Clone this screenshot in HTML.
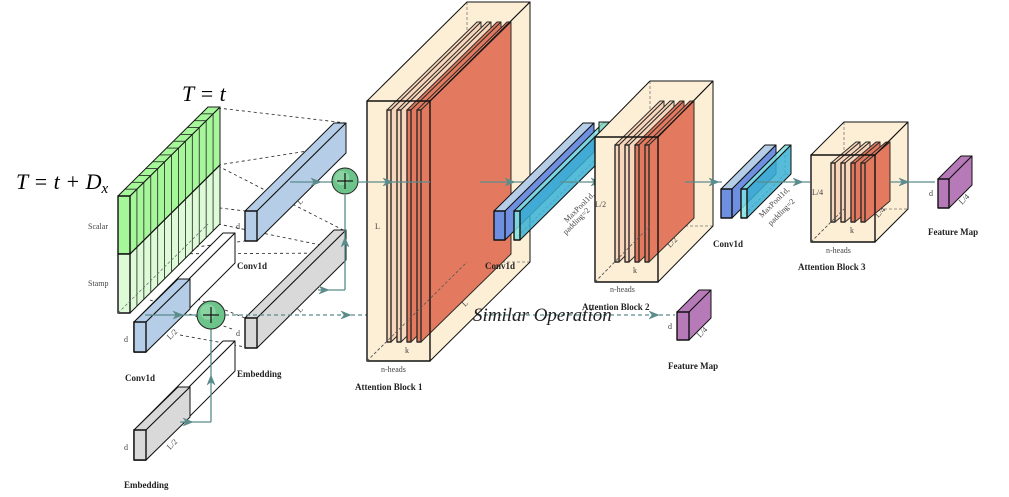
<!DOCTYPE html>
<html><head><meta charset="utf-8"><style>
html,body{margin:0;padding:0;background:#fff;}
svg{display:block;}
text{font-family:"Liberation Serif",serif;}
.b{font-weight:bold;font-size:9px;fill:#222;}
.s{font-size:8px;fill:#444;}
</style></head><body>
<svg id="svg" width="1009" height="497" viewBox="0 0 1009 497" xmlns="http://www.w3.org/2000/svg">
<g id="g"></g>
<g id="txt">
<text x="182" y="101" font-size="22" font-style="italic">T = t</text>
<text x="16" y="189" font-size="22" font-style="italic">T = t + D<tspan font-size="15" dy="4">x</tspan></text>
<text x="88" y="229" class="s">Scalar</text>
<text x="88" y="286" class="s">Stamp</text>
<text x="237" y="269" class="b">Conv1d</text>
<text x="125" y="381" class="b">Conv1d</text>
<text x="237" y="377" class="b">Embedding</text>
<text x="124" y="488" class="b">Embedding</text>
<text x="236" y="229" class="s">d</text>
<text x="236" y="336" class="s">d</text>
<text x="124" y="342" class="s">d</text>
<text x="124" y="450" class="s">d</text>
<text x="170" y="340" class="s" transform="rotate(-45 170 340)">L/2</text>
<text x="170" y="450" class="s" transform="rotate(-45 170 450)">L/2</text>
<text x="300" y="205" class="s" transform="rotate(-45 300 205)">L</text>
<text x="300" y="313" class="s" transform="rotate(-45 300 313)">L</text>
<text x="375" y="229" class="s">L</text>
<text x="405" y="353" class="s">k</text>
<text x="381" y="372" class="s">n-heads</text>
<text x="355" y="390" class="b">Attention Block 1</text>
<text x="465" y="307" class="s" transform="rotate(-45 465 307)">L</text>
<text x="485" y="269" class="b">Conv1d</text>
<text x="567" y="223" class="s" transform="rotate(-45 567 223)">MaxPool1d,</text>
<text x="566" y="235" class="s" transform="rotate(-45 566 235)">padding=2</text>
<text x="595" y="207" class="s">L/2</text>
<text x="633" y="273" class="s">k</text>
<text x="610" y="292" class="s">n-heads</text>
<text x="582" y="310" class="b">Attention Block 2</text>
<text x="670" y="248" class="s" transform="rotate(-45 670 248)">L/2</text>
<text x="473" y="321" font-size="19" font-style="italic" fill="#222">Similar Operation</text>
<text x="668" y="329" class="s">d</text>
<text x="700" y="338" class="s" transform="rotate(-45 700 338)">L/4</text>
<text x="668" y="369" class="b">Feature Map</text>
<text x="713" y="247" class="b">Conv1d</text>
<text x="762" y="218" class="s" transform="rotate(-45 762 218)">MaxPool1d,</text>
<text x="771" y="226" class="s" transform="rotate(-45 771 226)">padding=2</text>
<text x="812" y="195" class="s">L/4</text>
<text x="850" y="233" class="s">k</text>
<text x="826" y="253" class="s">n-heads</text>
<text x="798" y="270" class="b">Attention Block 3</text>
<text x="878" y="218" class="s" transform="rotate(-45 878 218)">L/4</text>
<text x="929" y="196" class="s">d</text>
<text x="962" y="205" class="s" transform="rotate(-45 962 205)">L/4</text>
<text x="928" y="235" class="b">Feature Map</text>
</g>
</svg>
<script>
var g=document.getElementById('g');var NS='http://www.w3.org/2000/svg';
function el(t,a){var e=document.createElementNS(NS,t);for(var k in a)e.setAttribute(k,a[k]);g.appendChild(e);return e;}
function P(pts){return pts.map(function(p){return p[0]+','+p[1]}).join(' ');}
function poly(pts,fill,stroke,sw,op){el('polygon',{points:P(pts),fill:fill,stroke:stroke||'#111','stroke-width':sw||1,'fill-opacity':op==null?1:op,'stroke-linejoin':'round'});}
function line(x1,y1,x2,y2,c,w,d){var a={x1:x1,y1:y1,x2:x2,y2:y2,stroke:c||'#111','stroke-width':w||1};if(d)a['stroke-dasharray']=d;el('line',a);}
function hidden(x,y,w,h,dx,dy){var hc='#666';
  line(x+dx,y-dy,x+dx,y+h-dy,hc,0.8,'3,2');line(x+dx,y+h-dy,x+w+dx,y+h-dy,hc,0.8,'3,2');line(x,y+h,x+dx,y+h-dy,hc,0.8,'3,2');}
function box(x,y,w,h,dx,dy,f,t,s,sw,op,hid){
 op=op==null?1:op;
 if(hid!==false)hidden(x,y,w,h,dx,dy);
 poly([[x,y],[x+dx,y-dy],[x+w+dx,y-dy],[x+w,y]],t,'#111',sw||1,op);
 poly([[x+w,y],[x+w+dx,y-dy],[x+w+dx,y+h-dy],[x+w,y+h]],s,'#111',sw||1,op);
 poly([[x,y],[x+w,y],[x+w,y+h],[x,y+h]],f,'#111',(sw||1)*1.4,op);
}
function block(x,y,w,h,dx,dy,plates,py,ph,pdx,pdy){
 var c='#fdefd6';
 poly([[x,y],[x+dx,y-dy],[x+w+dx,y-dy],[x+w+dx,y+h-dy],[x+w,y+h],[x,y+h]],c,'none',1,1);
 hidden(x,y,w,h,dx,dy);
 plates.forEach(function(p){box(p[0],py,4,ph,pdx,pdy,p[1],p[1],p[1],1,1,false);});
 poly([[x,y],[x+dx,y-dy],[x+w+dx,y-dy],[x+w,y]],c,'#111',1,0.12);
 poly([[x+w,y],[x+w+dx,y-dy],[x+w+dx,y+h-dy],[x+w,y+h]],c,'#111',1,0.12);
 poly([[x,y],[x+w,y],[x+w,y+h],[x,y+h]],c,'#111',1.4,0.12);
 line(x,y+h,x+dx,y+h-dy,'#555',0.8,'3,2');
}
function arrowH(x,y,c){poly([[x-7,y-4],[x+3,y],[x-7,y+4],[x-4,y]],c,c,0.5);}
function arrowV(x,y,c){poly([[x-4,y+7],[x,y-3],[x+4,y+7],[x,y+4]],c,c,0.5);}
var T='#5b8c8c';
var D='3,3';
[[218,108,346,123],[218,165,346,145],[130,197,245,211],[218,166,345,231],[130,254,345,253],[218,224,345,250],[130,255,245,241],[150,300,235,330],[175,290,245,318],[180,335,245,347]].forEach(function(l){line(l[0],l[1],l[2],l[3],'#222',0.8,D);});
(function(){var x=118,y=196,w=12,h=117,dx=90,dy=89;
 poly([[x+w,y],[x+w+dx,y-dy],[x+w+dx,y+58-dy],[x+w,y+58]],'#a6f79a','#111',1);
 poly([[x+w,y+58],[x+w+dx,y+58-dy],[x+w+dx,y+h-dy],[x+w,y+h]],'#dcfbd6','#111',1);
 poly([[x,y],[x+dx,y-dy],[x+w+dx,y-dy],[x+w,y]],'#a6f79a','#111',1);
 poly([[x,y],[x+w,y],[x+w,y+58],[x,y+58]],'#a6f79a','#111',1.4);
 poly([[x,y+58],[x+w,y+58],[x+w,y+h],[x,y+h]],'#dcfbd6','#111',1.4);
 var n=13;for(var i=1;i<=n;i++){var f=i/n,ox=x+w+dx*f,oy=y-dy*f;line(ox,oy,ox,oy+h,'#222',0.8);line(ox-w,oy,ox,oy,'#222',0.8);}
 line(x+w,y+58,x+w+dx,y+58-dy,'#111',1.2);
 line(x,y+h,x+dx,y+h-dy,'#666',0.7,'3,2');
})();
box(134,322,12,30,89,89,'#fff','#fff','#fff',1,1,true);
box(134,322,12,30,44,43,'#b5cde6','#b5cde6','#b5cde6',1,1,true);
box(134,430,12,30,89,89,'#fff','#fff','#fff',1,1,true);
box(134,430,12,30,44,43,'#d9d9d9','#d9d9d9','#d9d9d9',1,1,true);
box(245,211,12,30,89,88,'#b5cde6','#b5cde6','#b5cde6');
box(245,318,12,30,89,88,'#d9d9d9','#d9d9d9','#d9d9d9');
line(290,182,333,182,T,1.3);arrowH(318,182,T);
line(345,195,345,290,T,1.3);line(318,290,345,290,T,1.3);arrowH(326,290,T);arrowV(345,240,T);
line(145,315,197,315,T,1.3);arrowH(180,315,T);
line(211,329,211,422,T,1.3);line(180,422,211,422,T,1.3);arrowH(190,422,T);arrowV(211,378,T);
line(225,315,675,315,T,1.2,'4,3');arrowH(348,315,T);arrowH(656,315,T);
[[345,181,13],[211,315,14]].forEach(function(c){
 el('circle',{cx:c[0],cy:c[1],r:c[2],fill:'#6cc48a',stroke:'#222','stroke-width':1});
 el('circle',{cx:c[0]-3,cy:c[1]-3,r:c[2]*0.55,fill:'#9fe0b0','fill-opacity':0.6});
 line(c[0]-8,c[1],c[0]+8,c[1],'#111',1.2);line(c[0],c[1]-8,c[0],c[1]+8,'#111',1.2);});
block(367,101,63,260,100,99,[[387,'#f8d3b8'],[397,'#f8d3b8'],[407,'#e06a50'],[417,'#e06a50']],110,232,90,88);
line(358,182,430,182,T,1.3);arrowH(390,182,T);
line(480,182,530,182,T,1.3);arrowH(512,182,T);
box(494,211,11,29,89,88,'#6f8fe0','#b5cde6','#6f8fe0');
box(514,211,6,29,89,88,'#7fe3e0','#7fe3e0','#39b0d2',1,0.85);
poly([[599,122],[609,122],[609,146],[599,156]],'#8fdcc0','#111',1,0.8);
line(560,182,620,182,T,1.3);arrowH(598,182,T);
block(595,137,63,145,55,56,[[615,'#f8d3b8'],[625,'#f8d3b8'],[635,'#e06a50'],[645,'#e06a50']],145,117,45,44);
line(685,182,722,182,T,1.3);arrowH(716,182,T);
box(721,189,11,29,44,44,'#6f8fe0','#b5cde6','#6f8fe0');
box(741,189,6,29,44,44,'#7fe3e0','#7fe3e0','#39b0d2',1,0.85);
line(757,182,810,182,T,1.3);arrowH(800,182,T);
block(811,155,64,87,33,33,[[831,'#f8d3b8'],[841,'#f8d3b8'],[851,'#e06a50'],[861,'#e06a50']],163,59,25,21);
line(890,182,935,182,T,1.3);arrowH(906,182,T);
box(938,179,11,29,23,23,'#b77ab8','#b77ab8','#b77ab8');
box(677,312,12,28,22,22,'#b77ab8','#b77ab8','#b77ab8');
</script>
</body></html>
